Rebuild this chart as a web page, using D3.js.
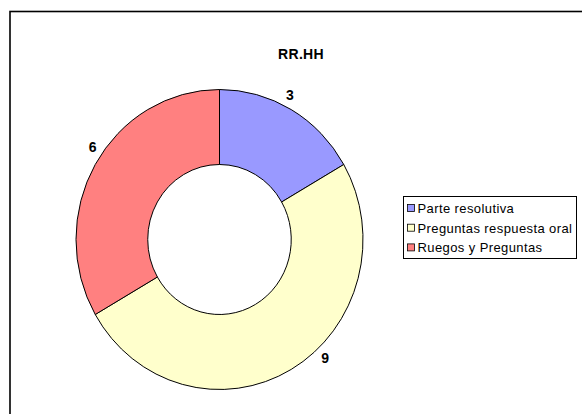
<!DOCTYPE html>
<html lang="es">
<head>
    <meta charset="UTF-8">
    <title>RR.HH</title>
    <script src="https://d3js.org/d3.v7.min.js"></script>
    <style>
        body { margin: 0; background: #fff; }
        svg { display: block; font-family: "Liberation Sans", Arial, sans-serif; }
    </style>
</head>
<body>
    <svg width="582" height="414"></svg>

    <script>
        // Chart data
        const title = "RR.HH";
        const categories = ["Parte resolutiva", "Preguntas respuesta oral", "Ruegos y Preguntas"];
        const values = [3, 9, 6];
        const colors = ["#9999FF", "#FFFFCC", "#FF8080"];

        const width = 582, height = 414;
        const svg = d3.select("svg");

        // Chart area border (extends beyond right/bottom edge)
        svg.append("rect")
            .attr("x", 10).attr("y", 11.5)
            .attr("width", 600).attr("height", 420)
            .attr("fill", "#fff")
            .attr("stroke", "#000")
            .attr("stroke-width", 1.6);

        // Title
        svg.append("text")
            .attr("x", 301).attr("y", 59)
            .attr("text-anchor", "middle")
            .style("font-size", "14px")
            .style("font-weight", "bold")
            .style("letter-spacing", "0.3px")
            .text(title);

        // Donut (slightly squashed horizontally, as in the original)
        const cx = 219.5, cy = 239.5, r = 150, sx = 143.5 / 150;
        const pie = d3.pie().sort(null).value(d => d)(values);
        const arc = d3.arc().innerRadius(r * 0.5).outerRadius(r);

        const g = svg.append("g")
            .attr("transform", `translate(${cx},${cy}) scale(${sx},1)`);

        g.selectAll("path")
            .data(pie)
            .join("path")
            .attr("d", arc)
            .attr("fill", (d, i) => colors[i])
            .attr("stroke", "#000")
            .attr("stroke-width", 1)
            .attr("vector-effect", "non-scaling-stroke");

        // Data labels, placed outside the ring near each slice's middle
        const labelShift = [-3, -13, 5]; // angle tweak in degrees
        const labelR = r * 1.08;
        svg.selectAll("text.val")
            .data(pie)
            .join("text")
            .attr("class", "val")
            .attr("x", (d, i) => {
                const a = (d.startAngle + d.endAngle) / 2 + labelShift[i] * Math.PI / 180;
                return cx + Math.sin(a) * labelR * sx;
            })
            .attr("y", (d, i) => {
                const a = (d.startAngle + d.endAngle) / 2 + labelShift[i] * Math.PI / 180;
                return cy - Math.cos(a) * labelR + 5;
            })
            .attr("text-anchor", "middle")
            .style("font-size", "14px")
            .style("font-weight", "bold")
            .text(d => d.data);

        // Legend
        const lg = svg.append("g").attr("transform", "translate(403.5,196.5)");
        lg.append("rect")
            .attr("width", 173).attr("height", 62)
            .attr("fill", "#fff")
            .attr("stroke", "#000")
            .attr("stroke-width", 1);

        const item = lg.selectAll("g.item")
            .data(categories)
            .join("g")
            .attr("class", "item")
            .attr("transform", (d, i) => `translate(4,${12 + i * 19.7})`);

        item.append("rect")
            .attr("x", 0).attr("y", -4)
            .attr("width", 7).attr("height", 7)
            .attr("fill", (d, i) => colors[i])
            .attr("stroke", "#000")
            .attr("stroke-width", 0.8);

        item.append("text")
            .attr("x", 10).attr("y", 4.5)
            .style("font-size", "13px")
            .style("letter-spacing", "0.4px")
            .text(d => d);
    </script>
</body>
</html>
